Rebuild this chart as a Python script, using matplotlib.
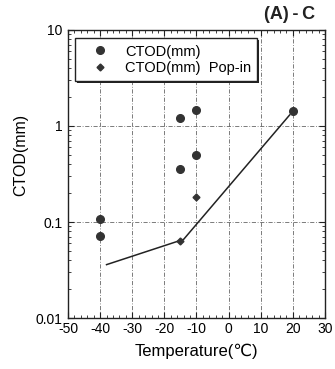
import matplotlib
matplotlib.use("Agg")
import matplotlib.pyplot as plt
from matplotlib.patches import Rectangle
from matplotlib.ticker import FixedLocator, MultipleLocator, LogLocator, NullFormatter

plt.rcParams['font.family'] = ['Liberation Sans', 'DejaVu Sans']

# Data
ctod_temp = [-40, -40, -15, -15, -10, -10, 20]
ctod_val = [0.108, 0.071, 1.22, 0.36, 1.45, 0.50, 1.42]
popin_temp = [-15, -10]
popin_val = [0.063, 0.18]
line_temp = [-38, -14, 19]
line_val = [0.036, 0.066, 1.3]
xticks = [-50, -40, -30, -20, -10, 0, 10, 20, 30]
yticks = [0.01, 0.1, 1, 10]
ytick_labels = ["0.01", "0.1", "1", "10"]

fig = plt.figure(figsize=(3.35, 3.69), dpi=100)
ax = fig.add_axes([0.203, 0.138, 0.767, 0.781])
ax.set_yscale('log')
ax.set_xlim(-50, 30)
ax.set_ylim(0.01, 10)

for t in xticks[1:-1]:
    ax.axvline(t, color='#666666', lw=0.6, ls=(0, (5, 2, 1, 2)), zorder=0)
for v in [0.1, 1]:
    ax.axhline(v, color='#666666', lw=0.6, ls=(0, (5, 2, 1, 2)), zorder=0)

ax.plot(line_temp, line_val, color='#222222', lw=1.1, zorder=2)
ax.plot(ctod_temp, ctod_val, 'o', color='#333333', ms=5.5, ls='none', label='CTOD(mm)', zorder=3)
ax.plot(popin_temp, popin_val, 'D', color='#333333', ms=3.5, ls='none', label='CTOD(mm)  Pop-in', zorder=3)

ax.set_xticks(xticks)
ax.set_xticklabels([str(t) for t in xticks])
ax.xaxis.set_minor_locator(MultipleLocator(2))
ax.yaxis.set_major_locator(FixedLocator(yticks))
ax.set_yticklabels(ytick_labels)
ax.yaxis.set_minor_locator(LogLocator(base=10, subs=range(2, 10)))
ax.yaxis.set_minor_formatter(NullFormatter())
ax.tick_params(which='both', direction='in', top=True, right=True, labelsize=10, color='#222222')
ax.tick_params(which='major', length=4, pad=4)
ax.tick_params(axis='x', which='major', pad=3)
ax.tick_params(which='minor', length=2)
for s in ax.spines.values():
    s.set_linewidth(1.0)
    s.set_color('#222222')

ax.set_xlabel('Temperature(℃)', fontsize=12, labelpad=5)
ax.set_ylabel('CTOD(mm)', fontsize=11.5, labelpad=8)
ax.yaxis.set_label_coords(-0.155, 0.566)

leg = ax.legend(loc='upper left', bbox_to_anchor=(0.027, 0.972, 0.708, 0.0), mode='expand',
                fontsize=10.5, frameon=True, fancybox=False, shadow=False,
                edgecolor='#222222', facecolor='white', framealpha=1.0,
                handletextpad=0.4, borderpad=0.45, labelspacing=0.15, handlelength=2.6,
                borderaxespad=0)
leg.get_frame().set_linewidth(1.0)
leg.set_zorder(5)

fig.text(0.94, 0.962, '(A)\u2009-\u2009C', fontsize=13, fontweight='bold', ha='right', va='center', color='#222222')

# thin drop shadow behind the legend box
fig.canvas.draw()
bb = leg.get_frame().get_window_extent(fig.canvas.get_renderer())
off = 2.0
shadow = Rectangle(((bb.x0 + off) / fig.bbox.width, (bb.y0 - off) / fig.bbox.height),
                   bb.width / fig.bbox.width, bb.height / fig.bbox.height,
                   transform=fig.transFigure, facecolor='#222222', edgecolor='none', zorder=4)
ax.add_artist(shadow)
shadow.set_clip_on(False)

fig.savefig('out.png', dpi=100)
